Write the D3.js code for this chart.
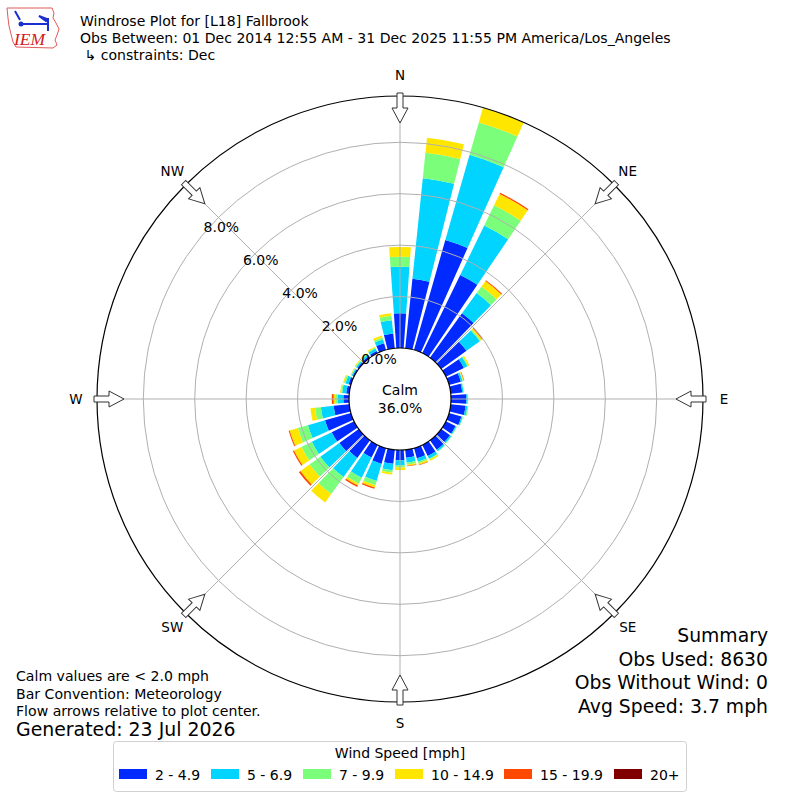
<!DOCTYPE html>
<html>
<head>
<meta charset="utf-8">
<script src="https://cdn.jsdelivr.net/npm/d3@7"></script>
<style>
  body { margin: 0; background: #fff; }
  svg { font-family: "DejaVu Sans", sans-serif; }
</style>
</head>
<body>
<svg id="chart" width="800" height="800"></svg>
<script>
// direction bins, degrees clockwise from north
const directions = [0, 10, 20, 30, 40, 50, 60, 70, 80, 90, 100, 110, 120, 130, 140, 150, 160, 170,
    180, 190, 200, 210, 220, 230, 240, 250, 260, 270, 280, 290, 300, 310, 320, 330, 340, 350];

const speedBins = ['2 - 4.9', '5 - 6.9', '7 - 9.9', '10 - 14.9', '15 - 19.9', '20+'];
const binColors = ['#002aff', '#00d4ff', '#7bff7b', '#ffe600', '#ff4800', '#800000'];

// frequency (%) per direction for each speed bin
const speed2to5 = [1.35, 2.72, 4.45, 3.38, 2.13, 1.21, 0.78, 0.48, 0.45, 0.60, 0.58, 0.50, 0.42, 0.42, 0.45, 0.48, 0.41, 0.31,
    0.40, 0.55, 0.64, 0.55, 0.85, 0.93, 0.97, 1.05, 0.61, 0.22, 0.12, 0.10, 0.06, 0.07, 0.08, 0.09, 0.27, 0.58];
const speed5to7 = [1.81, 3.93, 3.44, 2.14, 0.97, 0.64, 0.15, 0.07, 0.05, 0.05, 0.07, 0.05, 0.04, 0.06, 0.07, 0.12, 0.14, 0.19,
    0.20, 0.25, 0.69, 0.87, 0.91, 0.91, 0.86, 0.69, 0.50, 0.23, 0.16, 0.12, 0.05, 0.06, 0.07, 0.11, 0.15, 0.52];
const speed7to10 = [0.39, 0.99, 1.31, 0.87, 0.32, 0.05, 0.04, 0.02, 0.02, 0.02, 0.04, 0.02, 0.02, 0.02, 0.02, 0.04, 0.07, 0.08,
    0.08, 0.10, 0.17, 0.26, 0.82, 0.52, 0.45, 0.41, 0.23, 0.09, 0.04, 0.06, 0.03, 0.04, 0.04, 0.04, 0.08, 0.17];
const speed10to15 = [0.38, 0.59, 0.60, 0.49, 0.26, 0.06, 0.05, 0.03, 0, 0, 0, 0, 0, 0, 0, 0.05, 0.06, 0.05,
    0.10, 0.07, 0.10, 0.08, 0.40, 0.44, 0.32, 0.33, 0.18, 0.06, 0.04, 0.04, 0.02, 0.03, 0.03, 0.04, 0.08, 0.10];
const speed15to20 = [0, 0, 0, 0.05, 0.04, 0.04, 0, 0.02, 0, 0, 0, 0, 0, 0, 0, 0, 0.02, 0.02,
    0, 0, 0.05, 0.06, 0, 0.07, 0.05, 0.04, 0, 0.07, 0, 0, 0, 0, 0, 0, 0, 0];
const speed20plus = [0, 0, 0, 0, 0, 0, 0, 0, 0, 0, 0, 0, 0, 0, 0, 0, 0, 0,
    0, 0, 0, 0, 0, 0, 0, 0, 0, 0, 0, 0, 0, 0, 0, 0, 0, 0];

const ringTicks = [0, 2, 4, 6, 8];
const compassLabels = ['N', 'NE', 'E', 'SE', 'S', 'SW', 'W', 'NW'];
const calmPercent = 36.0;

const titleLines = [
    'Windrose Plot for [L18] Fallbrook',
    'Obs Between: 01 Dec 2014 12:55 AM - 31 Dec 2025 11:55 PM America/Los_Angeles',
    ' \u21b3 constraints: Dec'
];
const noteLines = ['Calm values are < 2.0 mph', 'Bar Convention: Meteorology', 'Flow arrows relative to plot center.'];
const generatedText = 'Generated: 23 Jul 2026';
const summaryLines = ['Summary', 'Obs Used: 8630', 'Obs Without Wind: 0', 'Avg Speed: 3.7 mph'];

const svg = d3.select('#chart');
const cx = 400, cy = 399;
const calmRadius = 51, outerRadius = 303;

// stack the speed bins for each direction
const binSeries = [speed2to5, speed5to7, speed7to10, speed10to15, speed15to20, speed20plus];
const rows = directions.map((d, i) => {
    const row = { dir: d };
    speedBins.forEach((b, j) => row[b] = binSeries[j][i]);
    return row;
});
const stacked = d3.stack().keys(speedBins)(rows);
const maxTotal = d3.max(rows, r => d3.sum(speedBins, b => r[b]));

const r = d3.scaleLinear().domain([0, maxTotal]).range([calmRadius, outerRadius]);
const toRad = d => d * Math.PI / 180;
const halfWidth = 4.1;

const plot = svg.append('g').attr('transform', `translate(${cx},${cy})`);

// bars
const arc = d3.arc();
stacked.forEach((layer, j) => {
    plot.append('g')
        .selectAll('path')
        .data(layer.filter(d => d[1] > d[0]))
        .enter().append('path')
        .attr('fill', binColors[j])
        .attr('d', d => arc({
            innerRadius: r(d[0]),
            outerRadius: r(d[1]),
            startAngle: toRad(d.data.dir - halfWidth),
            endAngle: toRad(d.data.dir + halfWidth)
        }));
});

// grid on top of the bars
const grid = plot.append('g').attr('stroke', '#b0b0b0').attr('fill', 'none').attr('stroke-width', 1);
grid.selectAll('circle')
    .data(ringTicks.filter(t => t > 0))
    .enter().append('circle')
    .attr('r', d => r(d));
grid.selectAll('line')
    .data(d3.range(0, 360, 45))
    .enter().append('line')
    .attr('x1', 0).attr('y1', 0)
    .attr('x2', d => outerRadius * Math.sin(toRad(d)))
    .attr('y2', d => -outerRadius * Math.cos(toRad(d)));

// outer frame
plot.append('circle')
    .attr('r', outerRadius)
    .attr('fill', 'none')
    .attr('stroke', '#000')
    .attr('stroke-width', 1.2);

// calm circle
plot.append('circle')
    .attr('r', calmRadius)
    .attr('fill', '#fff')
    .attr('stroke', '#000')
    .attr('stroke-width', 1.2);
plot.append('text')
    .attr('text-anchor', 'middle')
    .attr('font-size', 14)
    .selectAll('tspan')
    .data(['Calm', calmPercent.toFixed(1) + '%'])
    .enter().append('tspan')
    .attr('x', 0)
    .attr('y', (d, i) => -4 + i * 18)
    .text(d => d);

// ring labels
const labelAngle = toRad(310);
plot.append('g')
    .selectAll('text')
    .data(ringTicks)
    .enter().append('text')
    .attr('text-anchor', 'middle')
    .attr('dominant-baseline', 'central')
    .attr('font-size', 14)
    .attr('x', d => r(d) * Math.sin(labelAngle) + 18)
    .attr('y', d => -r(d) * Math.cos(labelAngle) - 7.5)
    .text(d => d.toFixed(1) + '%');

// flow arrows pointing to the center
const arrowPath = 'M-3,-306 L3,-306 L3,-291 L8,-291 L0,-276 L-8,-291 L-3,-291 Z';
plot.append('g')
    .selectAll('path')
    .data(compassLabels)
    .enter().append('path')
    .attr('d', arrowPath)
    .attr('transform', (d, i) => `rotate(${i * 45})`)
    .attr('fill', '#fff')
    .attr('stroke', '#333')
    .attr('stroke-width', 1);

// compass labels
plot.append('g')
    .selectAll('text')
    .data(compassLabels)
    .enter().append('text')
    .attr('text-anchor', 'middle')
    .attr('dominant-baseline', 'central')
    .attr('font-size', 13.5)
    .attr('x', (d, i) => (i % 2 ? 322 : 324) * Math.sin(toRad(i * 45)))
    .attr('y', (d, i) => -(i % 2 ? 322 : 324) * Math.cos(toRad(i * 45)))
    .text(d => d);

// header
svg.append('g')
    .selectAll('text')
    .data(titleLines)
    .enter().append('text')
    .attr('x', 80)
    .attr('y', (d, i) => 26 + i * 17)
    .attr('font-size', 14.05)
    .attr('xml:space', 'preserve')
    .style('white-space', 'pre')
    .text(d => d);

// IEM logo
const logo = svg.append('g');
logo.append('path')
    .attr('d', 'M7,8 L52,8 L54,13 L53,18 L56,23 L59,29 L57,35 L55,40 L57,45 L53,48 L16,47 L13,42 L11,34 L9,26 L8,18 Z')
    .attr('fill', 'none')
    .attr('stroke', '#e05a5a')
    .attr('stroke-width', 1);
logo.append('text')
    .attr('x', 14).attr('y', 45)
    .attr('font-family', '"Liberation Serif", serif')
    .attr('font-style', 'italic')
    .attr('font-size', 17.5)
    .attr('fill', '#d42020')
    .text('IEM');
const barb = logo.append('g').attr('stroke', '#1a2fd0').attr('stroke-width', 2).attr('fill', 'none');
barb.append('line').attr('x1', 21).attr('y1', 24).attr('x2', 48).attr('y2', 24);
barb.append('line').attr('x1', 48).attr('y1', 18).attr('x2', 48).attr('y2', 31);
barb.append('line').attr('x1', 15).attr('y1', 11).attr('x2', 20).attr('y2', 20);
barb.append('path').attr('d', 'M39,16 L47,19 L46,21 Z').attr('fill', '#1a2fd0');
logo.append('circle').attr('cx', 21).attr('cy', 24).attr('r', 2.5).attr('fill', '#1a2fd0');

// notes, bottom left
svg.append('g')
    .selectAll('text')
    .data(noteLines)
    .enter().append('text')
    .attr('x', 16)
    .attr('y', (d, i) => 681 + i * 17.5)
    .attr('font-size', 14.1)
    .text(d => d);
svg.append('text')
    .attr('x', 16).attr('y', 736)
    .attr('font-size', 18.9)
    .text(generatedText);

// summary, bottom right
svg.append('g')
    .selectAll('text')
    .data(summaryLines)
    .enter().append('text')
    .attr('x', 768)
    .attr('y', (d, i) => 642 + i * 23.7)
    .attr('text-anchor', 'end')
    .attr('font-size', 18.8)
    .text(d => d);

// legend
const legend = svg.append('g');
legend.append('rect')
    .attr('x', 113.5).attr('y', 741.5)
    .attr('width', 573).attr('height', 50)
    .attr('rx', 3)
    .attr('fill', '#fff')
    .attr('stroke', '#d0d0d0');
legend.append('text')
    .attr('x', 400).attr('y', 757.5)
    .attr('text-anchor', 'middle')
    .attr('font-size', 14)
    .text('Wind Speed [mph]');
const legendX = [119, 211, 303, 395, 504, 614];
const items = legend.selectAll('g.item')
    .data(speedBins)
    .enter().append('g')
    .attr('transform', (d, i) => `translate(${legendX[i]},769)`);
items.append('rect')
    .attr('width', 28).attr('height', 10)
    .attr('fill', (d, i) => binColors[i]);
items.append('text')
    .attr('x', 36).attr('y', 10.5)
    .attr('font-size', 14)
    .text(d => d);
</script>
</body>
</html>
